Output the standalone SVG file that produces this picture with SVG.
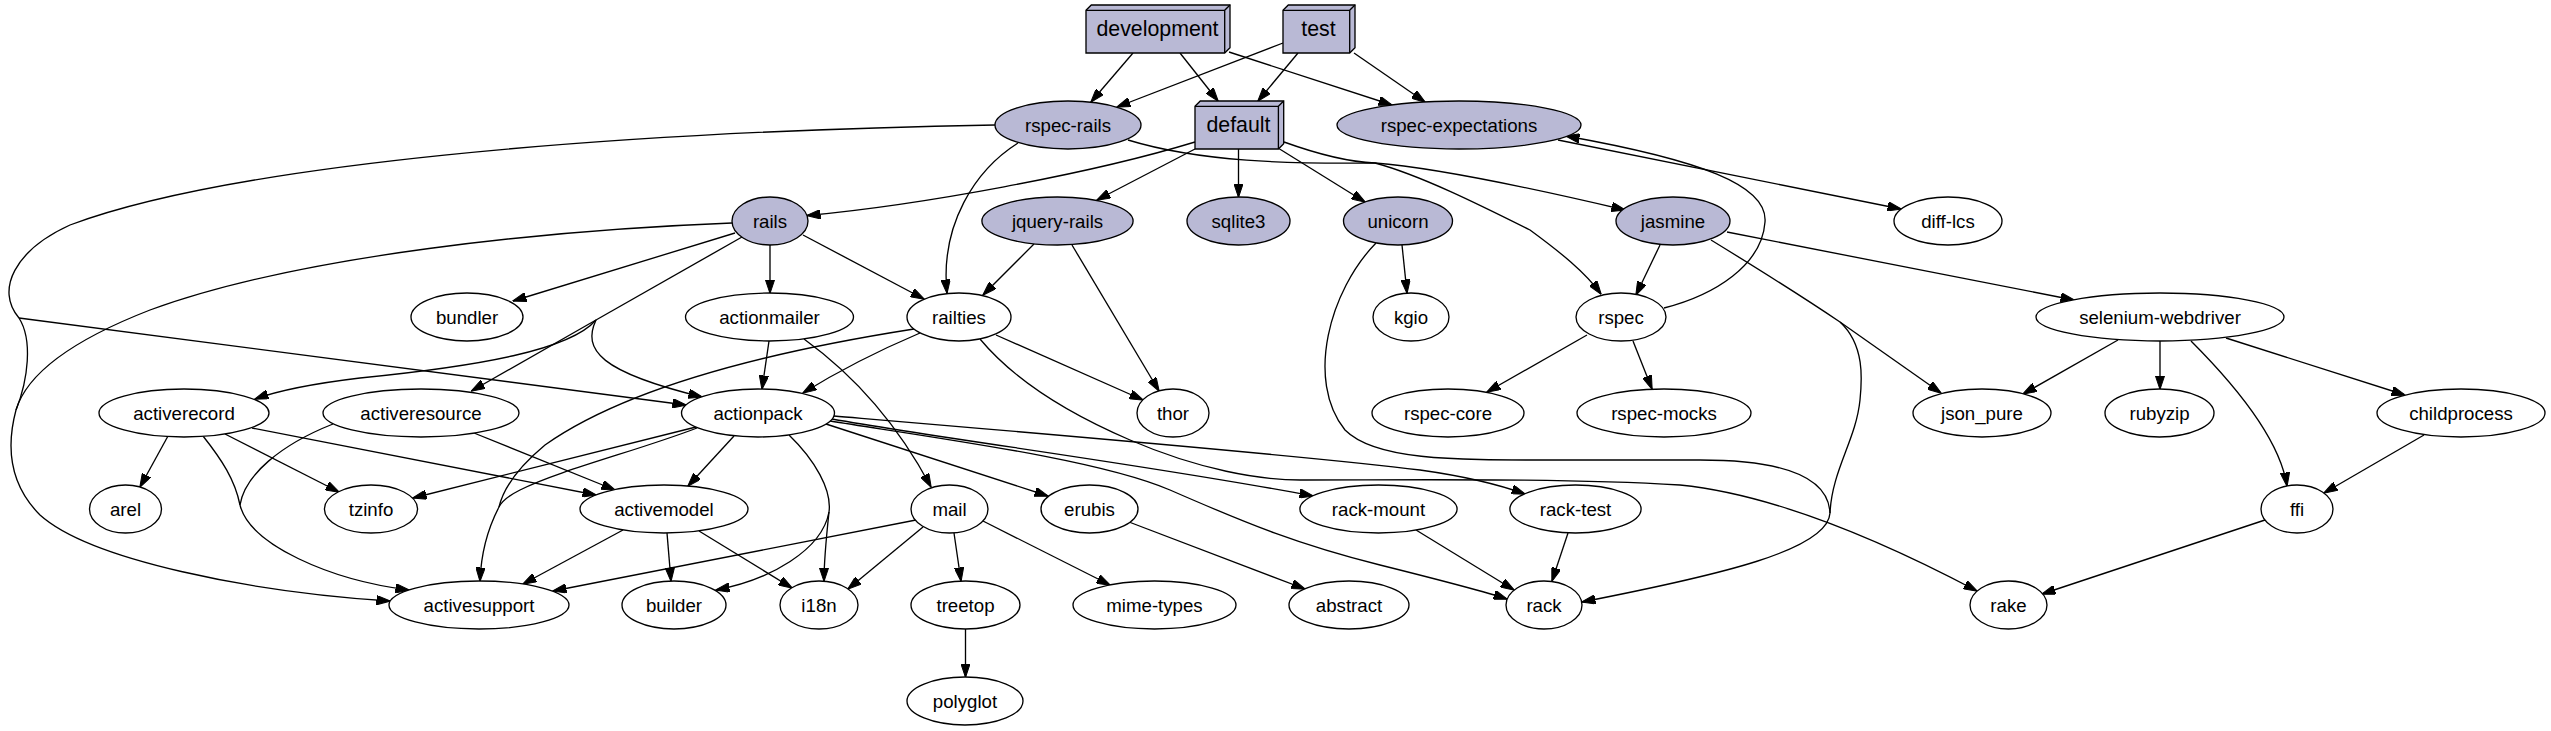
<svg xmlns="http://www.w3.org/2000/svg" width="2551" height="731" viewBox="0 0 2551 731">
<style>
  .bg{fill:#ffffff}
  .node ellipse{fill:#ffffff;stroke:#000;stroke-width:1.33}
  .node.f ellipse{fill:#B9B9D5}
  .box .body{fill:#B9B9D5;stroke:#000;stroke-width:1.33;stroke-linejoin:miter}
  .box .edge3d{fill:none;stroke:#000;stroke-width:1.33}
  text{font-family:"Liberation Sans",Arial,Helvetica,sans-serif;font-size:18.67px;text-anchor:middle;fill:#000}
  .box text{font-size:21.33px}
  #edges path{fill:none;stroke:#000;stroke-width:1.33}
  #edges path.a{marker-end:url(#arr)}
</style>
<defs>
  <marker id="arr" viewBox="0 0 14 9.4" refX="13.5" refY="4.7" markerWidth="14" markerHeight="9.4" markerUnits="userSpaceOnUse" orient="auto">
    <path d="M0,0 L14,4.7 L0,9.4 z" fill="#000" stroke="#000" stroke-width="1"/>
  </marker>
</defs>
<rect class="bg" x="0" y="0" width="2551" height="731"/>

<g id="edges">
  <path id="e-development-rspec-rails" class="a" d="M1133,53 L1091,102"/>
  <path id="e-development-default" class="a" d="M1180,53 L1218,101"/>
  <path id="e-development-rspec-expectations" class="a" d="M1229,52 L1392,105"/>
  <path id="e-test-rspec-rails" class="a" d="M1283,43 L1117,107"/>
  <path id="e-test-default" class="a" d="M1298,53 L1258,101"/>
  <path id="e-test-rspec-expectations" class="a" d="M1354,53 L1425,102"/>
  <path id="e-default-rails" class="a" d="M1195,142 C1090,174 920,205 807,215.5"/>
  <path id="e-default-jquery-rails" class="a" d="M1195,149 L1097,200"/>
  <path id="e-default-sqlite3" class="a" d="M1238.5,149 L1238.5,197"/>
  <path id="e-default-unicorn" class="a" d="M1278,148 L1365,202"/>
  <path id="e-default-jasmine" class="a" d="M1284,142 C1320,155 1350,162 1375,163 C1440,168 1540,190 1625,210"/>
  <path id="e-rspec-rails-rspec" class="a" d="M1128,140 C1200,162 1290,164 1375,163 C1420,175 1480,205 1530,230 C1560,252 1585,272 1601,294"/>
  <path id="e-rspec-rails-railties" class="a" d="M1018,143 C975,170 940,225 947,293"/>
  <path id="e-rspec-rails-shared" d="M995,125 C600,132 230,165 70,225 C15,250 -5,290 19,318"/>
  <path id="e-rspec-rails-actionpack" class="a" d="M19,318 L686,405"/>
  <path id="e-rspec-rails-activesupport" d="M19,318 C33,340 28,380 16,410"/>
  <path id="e-rails-activesupport" d="M732,223 C550,230 300,255 150,310 C60,345 25,380 16,410"/>
  <path id="e-to-activesupport-left" class="a" d="M16,410 C8,440 5,480 40,515 C90,560 250,592 390,601"/>
  <path id="e-rails-bundler" class="a" d="M735,233 L513,301"/>
  <path id="e-rails-actionmailer" class="a" d="M770,245 L770,293"/>
  <path id="e-rails-railties" class="a" d="M803,235 L924,299"/>
  <path id="e-rails-trunk" d="M742,237 L596,320"/>
  <path id="e-rails-activeresource" class="a" d="M596,320 L471.5,391"/>
  <path id="e-rails-actionpack" class="a" d="M596,320 C582,350 600,372 702,397"/>
  <path id="e-rails-activerecord" class="a" d="M596,320 C570,350 480,366 360,378 C310,384 280,390 255,399"/>
  <path id="e-jquery-rails-railties" class="a" d="M1034,244 L983,295"/>
  <path id="e-jquery-rails-thor" class="a" d="M1072,245 L1159,391"/>
  <path id="e-unicorn-kgio" class="a" d="M1402,245 L1407,293"/>
  <path id="e-unicorn-rack" d="M1376,243 C1330,290 1305,380 1345,430 C1375,460 1450,460 1550,460 L1700,460 C1770,460 1828,472 1830,513"/>
  <path id="e-jasmine-shared" d="M1711,240 C1760,270 1800,295 1840,322"/>
  <path id="e-jasmine-json_pure" class="a" d="M1840,322 C1880,350 1915,375 1941,393"/>
  <path id="e-jasmine-rack" d="M1840,322 C1865,345 1862,380 1860,400 C1856,440 1832,470 1830,513"/>
  <path id="e-to-rack-right" class="a" d="M1830,513 C1828,550 1720,575 1582,602"/>
  <path id="e-jasmine-rspec" class="a" d="M1660,245 L1636,295"/>
  <path id="e-jasmine-selenium-webdriver" class="a" d="M1727,232 L2074,300"/>
  <path id="e-rspec-expectations-diff-lcs" class="a" d="M1558,140 L1901,209"/>
  <path id="e-rspec-rspec-expectations" class="a" d="M1664,308 C1715,295 1762,265 1765,222 C1768,185 1700,160 1566,136"/>
  <path id="e-rspec-rspec-core" class="a" d="M1587,335 L1487,392"/>
  <path id="e-rspec-rspec-mocks" class="a" d="M1633,341 L1652,389"/>
  <path id="e-selenium-webdriver-json_pure" class="a" d="M2118,340 L2023,394"/>
  <path id="e-selenium-webdriver-rubyzip" class="a" d="M2160,341 L2160,389"/>
  <path id="e-selenium-webdriver-ffi" class="a" d="M2191,341 C2235,385 2280,440 2287,486"/>
  <path id="e-selenium-webdriver-childprocess" class="a" d="M2226,338 L2405,395"/>
  <path id="e-childprocess-ffi" class="a" d="M2424,435 L2324,493"/>
  <path id="e-ffi-rake" class="a" d="M2265,520 L2042,594"/>
  <path id="e-railties-rake" class="a" d="M980,339 C1010,375 1060,410 1130,440 C1200,470 1260,480 1300,480 C1420,480 1560,478 1680,485 C1780,495 1890,545 1977,591"/>
  <path id="e-railties-thor" class="a" d="M996,335 L1143,400"/>
  <path id="e-railties-actionpack" class="a" d="M920,333 C880,350 840,370 803,393"/>
  <path id="e-railties-activesupport" d="M914,329 C780,350 630,385 545,445 C515,470 503,490 499,507"/>
  <path id="e-actionmailer-actionpack" class="a" d="M769,341 L762,389"/>
  <path id="e-actionmailer-mail" class="a" d="M804,339 C840,365 890,410 931,487"/>
  <path id="e-actionpack-activesupport" d="M697,428 C640,450 560,470 520,490 C508,496 502,501 499,507"/>
  <path id="e-to-activesupport-top" class="a" d="M499,507 C487,530 481,555 480,581"/>
  <path id="e-actionpack-tzinfo" class="a" d="M696,427 L413,498"/>
  <path id="e-actionpack-activemodel" class="a" d="M734,436 L688,486"/>
  <path id="e-actionpack-shared" d="M789,435 C815,460 832,490 829,512"/>
  <path id="e-actionpack-builder" class="a" d="M829,512 C822,550 770,580 716,590"/>
  <path id="e-actionpack-i18n" class="a" d="M829,512 C826,540 824,560 824,581"/>
  <path id="e-actionpack-erubis" class="a" d="M826,424 L1048,496"/>
  <path id="e-actionpack-rack-mount" class="a" d="M832,419 C950,440 1150,465 1313,496"/>
  <path id="e-actionpack-rack-test" class="a" d="M834,416 C1000,430 1300,455 1420,470 C1470,477 1500,485 1525,494"/>
  <path id="e-actionpack-rack" class="a" d="M830,421 C950,440 1100,460 1170,490 C1250,525 1300,545 1380,565 C1440,580 1480,590 1507,599"/>
  <path id="e-activerecord-arel" class="a" d="M168,436 L140,487"/>
  <path id="e-activerecord-tzinfo" class="a" d="M225,434 L339,492"/>
  <path id="e-activerecord-activemodel" class="a" d="M252,428 L596,495"/>
  <path id="e-activerecord-activesupport" d="M203,436 C222,460 235,480 240,505"/>
  <path id="e-activeresource-activesupport" d="M333,424 C280,445 245,475 240,505"/>
  <path id="e-to-activesupport-mid" class="a" d="M240,505 C250,545 330,580 409,590"/>
  <path id="e-activeresource-activemodel" class="a" d="M474,433 L615,490"/>
  <path id="e-activemodel-activesupport" class="a" d="M623,530 L523,584"/>
  <path id="e-activemodel-builder" class="a" d="M667,533 L671,581"/>
  <path id="e-activemodel-i18n" class="a" d="M699,531 L792,588"/>
  <path id="e-mail-activesupport" class="a" d="M916,520 L553,591"/>
  <path id="e-mail-i18n" class="a" d="M923,527 L848,589"/>
  <path id="e-mail-treetop" class="a" d="M954,533 L961,581"/>
  <path id="e-mail-mime-types" class="a" d="M983,521 L1110,585"/>
  <path id="e-erubis-abstract" class="a" d="M1129,522 L1305,589"/>
  <path id="e-rack-mount-rack" class="a" d="M1416,530 L1514,590"/>
  <path id="e-rack-test-rack" class="a" d="M1568,533 L1552,581"/>
  <path id="e-treetop-polyglot" class="a" d="M965.5,629 L965.5,677"/>
</g>

<g id="node-development" class="node box">
  <path class="body" d="M1086,10.3 L1091.3,5 L1230,5 L1230,47.7 L1224.7,53 L1086,53 Z"/>
  <path class="edge3d" d="M1086,10.3 L1224.7,10.3 L1224.7,53 M1224.7,10.3 L1230,5"/>
  <text x="1157.5" y="35.5">development</text>
</g>
<g id="node-test" class="node box">
  <path class="body" d="M1283,10.3 L1288.3,5 L1355,5 L1355,47.7 L1349.7,53 L1283,53 Z"/>
  <path class="edge3d" d="M1283,10.3 L1349.7,10.3 L1349.7,53 M1349.7,10.3 L1355,5"/>
  <text x="1318.5" y="35.5">test</text>
</g>
<g id="node-default" class="node box">
  <path class="body" d="M1195,106.3 L1200.3,101 L1283.7,101 L1283.7,143.7 L1278.4,149 L1195,149 Z"/>
  <path class="edge3d" d="M1195,106.3 L1278.4,106.3 L1278.4,149 M1278.4,106.3 L1283.7,101"/>
  <text x="1238.5" y="132">default</text>
</g>

<g id="node-rspec-rails" class="node f"><ellipse cx="1068" cy="125" rx="73" ry="24"/><text x="1068" y="131.5">rspec-rails</text></g>
<g id="node-rspec-expectations" class="node f"><ellipse cx="1459" cy="125" rx="122" ry="24"/><text x="1459" y="131.5">rspec-expectations</text></g>
<g id="node-rails" class="node f"><ellipse cx="770" cy="221" rx="38" ry="24"/><text x="770" y="227.5">rails</text></g>
<g id="node-jquery-rails" class="node f"><ellipse cx="1057.5" cy="221" rx="75.6" ry="24"/><text x="1057.5" y="227.5">jquery-rails</text></g>
<g id="node-sqlite3" class="node f"><ellipse cx="1238.5" cy="221" rx="51.5" ry="24"/><text x="1238.5" y="227.5">sqlite3</text></g>
<g id="node-unicorn" class="node f"><ellipse cx="1398" cy="221" rx="54.5" ry="24"/><text x="1398" y="227.5">unicorn</text></g>
<g id="node-jasmine" class="node f"><ellipse cx="1673" cy="221" rx="57" ry="24"/><text x="1673" y="227.5">jasmine</text></g>
<g id="node-diff-lcs" class="node"><ellipse cx="1948" cy="221" rx="54" ry="24"/><text x="1948" y="227.5">diff-lcs</text></g>

<g id="node-bundler" class="node"><ellipse cx="467" cy="317" rx="56" ry="24"/><text x="467" y="323.5">bundler</text></g>
<g id="node-actionmailer" class="node"><ellipse cx="769.5" cy="317" rx="84" ry="24"/><text x="769.5" y="323.5">actionmailer</text></g>
<g id="node-railties" class="node"><ellipse cx="959" cy="317" rx="52" ry="24"/><text x="959" y="323.5">railties</text></g>
<g id="node-kgio" class="node"><ellipse cx="1411" cy="317" rx="38" ry="24"/><text x="1411" y="323.5">kgio</text></g>
<g id="node-rspec" class="node"><ellipse cx="1621" cy="317" rx="45" ry="24"/><text x="1621" y="323.5">rspec</text></g>
<g id="node-selenium-webdriver" class="node"><ellipse cx="2160" cy="317" rx="124" ry="24"/><text x="2160" y="323.5">selenium-webdriver</text></g>

<g id="node-activerecord" class="node"><ellipse cx="184" cy="413" rx="85" ry="24"/><text x="184" y="419.5">activerecord</text></g>
<g id="node-activeresource" class="node"><ellipse cx="421" cy="413" rx="98" ry="24"/><text x="421" y="419.5">activeresource</text></g>
<g id="node-actionpack" class="node"><ellipse cx="758" cy="413" rx="76.5" ry="24"/><text x="758" y="419.5">actionpack</text></g>
<g id="node-thor" class="node"><ellipse cx="1173" cy="413" rx="36" ry="24"/><text x="1173" y="419.5">thor</text></g>
<g id="node-rspec-core" class="node"><ellipse cx="1448" cy="413" rx="76" ry="24"/><text x="1448" y="419.5">rspec-core</text></g>
<g id="node-rspec-mocks" class="node"><ellipse cx="1664" cy="413" rx="87" ry="24"/><text x="1664" y="419.5">rspec-mocks</text></g>
<g id="node-json_pure" class="node"><ellipse cx="1982" cy="413" rx="69" ry="24"/><text x="1982" y="419.5">json_pure</text></g>
<g id="node-rubyzip" class="node"><ellipse cx="2159.5" cy="413" rx="54.5" ry="24"/><text x="2159.5" y="419.5">rubyzip</text></g>
<g id="node-childprocess" class="node"><ellipse cx="2461" cy="413" rx="84" ry="24"/><text x="2461" y="419.5">childprocess</text></g>

<g id="node-arel" class="node"><ellipse cx="125.5" cy="509" rx="36" ry="24"/><text x="125.5" y="515.5">arel</text></g>
<g id="node-tzinfo" class="node"><ellipse cx="371" cy="509" rx="46.6" ry="24"/><text x="371" y="515.5">tzinfo</text></g>
<g id="node-activemodel" class="node"><ellipse cx="664" cy="509" rx="84" ry="24"/><text x="664" y="515.5">activemodel</text></g>
<g id="node-mail" class="node"><ellipse cx="949.5" cy="509" rx="38.5" ry="24"/><text x="949.5" y="515.5">mail</text></g>
<g id="node-erubis" class="node"><ellipse cx="1089.5" cy="509" rx="48.5" ry="24"/><text x="1089.5" y="515.5">erubis</text></g>
<g id="node-rack-mount" class="node"><ellipse cx="1378.5" cy="509" rx="78.6" ry="24"/><text x="1378.5" y="515.5">rack-mount</text></g>
<g id="node-rack-test" class="node"><ellipse cx="1575.5" cy="509" rx="65.6" ry="24"/><text x="1575.5" y="515.5">rack-test</text></g>
<g id="node-ffi" class="node"><ellipse cx="2297" cy="509" rx="36" ry="24"/><text x="2297" y="515.5">ffi</text></g>

<g id="node-activesupport" class="node"><ellipse cx="479" cy="605" rx="90" ry="24"/><text x="479" y="611.5">activesupport</text></g>
<g id="node-builder" class="node"><ellipse cx="674" cy="605" rx="52" ry="24"/><text x="674" y="611.5">builder</text></g>
<g id="node-i18n" class="node"><ellipse cx="819" cy="605" rx="39" ry="24"/><text x="819" y="611.5">i18n</text></g>
<g id="node-treetop" class="node"><ellipse cx="965.5" cy="605" rx="54.5" ry="24"/><text x="965.5" y="611.5">treetop</text></g>
<g id="node-mime-types" class="node"><ellipse cx="1154.5" cy="605" rx="81.5" ry="24"/><text x="1154.5" y="611.5">mime-types</text></g>
<g id="node-abstract" class="node"><ellipse cx="1349" cy="605" rx="60" ry="24"/><text x="1349" y="611.5">abstract</text></g>
<g id="node-rack" class="node"><ellipse cx="1544" cy="605" rx="38" ry="24"/><text x="1544" y="611.5">rack</text></g>
<g id="node-rake" class="node"><ellipse cx="2008.5" cy="605" rx="38.5" ry="24"/><text x="2008.5" y="611.5">rake</text></g>

<g id="node-polyglot" class="node"><ellipse cx="965" cy="701" rx="58" ry="24"/><text x="965" y="707.5">polyglot</text></g>
</svg>
